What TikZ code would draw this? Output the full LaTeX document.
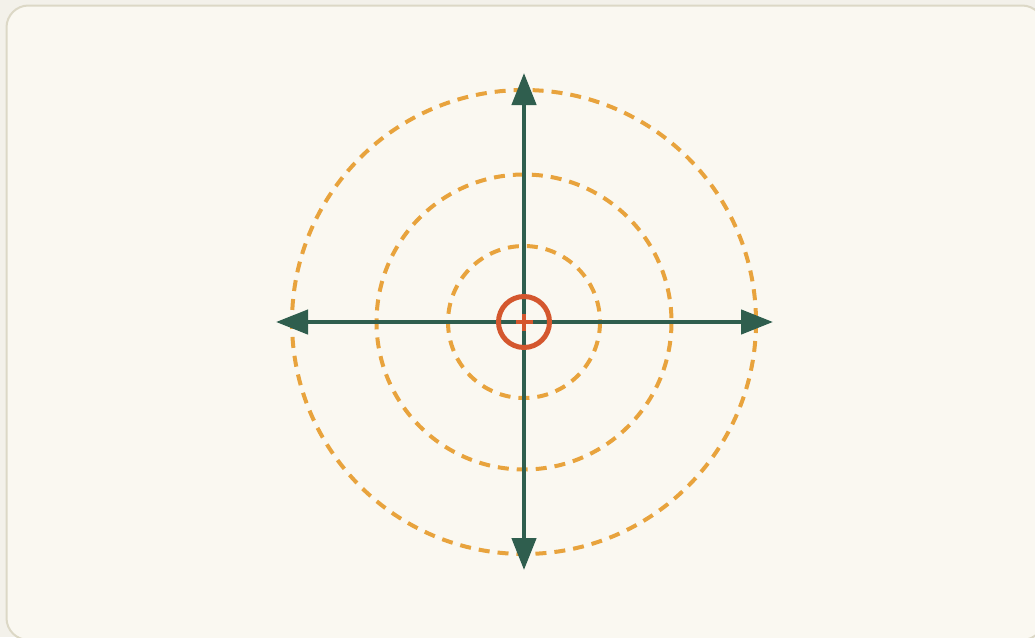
\documentclass[tikz,border=0pt]{standalone}
\usetikzlibrary{arrows.meta}
\definecolor{pagebg}{HTML}{F3F1EA}
\definecolor{cardbg}{HTML}{FAF8F1}
\definecolor{cardline}{HTML}{DCD8C6}
\definecolor{axisgreen}{HTML}{2F5E4E}
\definecolor{ringorange}{HTML}{E8A33D}
\definecolor{targetred}{HTML}{D4572E}
\tikzset{
  ring/.style={draw=ringorange, line width=4pt, dash pattern=on 11pt off 8pt},
  axisline/.style={draw=axisgreen, line width=4.5pt, -{Triangle[length=32pt,width=24pt]}},
  target/.style={draw=targetred, line width=5pt},
}
\begin{document}
\begin{tikzpicture}[x=1pt,y=-1pt]
  \fill[pagebg] (0,0) rectangle (1035,637);
  \useasboundingbox (0,0) rectangle (1035,637);
  \draw[cardline, fill=cardbg, line width=2pt, rounded corners=22pt] (6.5,5.5) rectangle (1044,640);
  \coordinate (c) at (524,322);
  \draw[ring] (c) circle[radius=232];
  \draw[ring] (c) circle[radius=147.5];
  \draw[ring] (c) circle[radius=76];
  \coordinate (n) at (524,73);
  \coordinate (s) at (524,570);
  \coordinate (w) at (276,322);
  \coordinate (e) at (773,322);
  \draw[axisline] (c) -- (n);
  \draw[axisline] (c) -- (s);
  \draw[axisline] (c) -- (w);
  \draw[axisline] (c) -- (e);
  \node[target, circle, minimum size=51pt, inner sep=0pt] (ring0) at (c) {};
  \draw[draw=targetred, line width=4pt] (516,322) -- (533,322);
  \draw[draw=targetred, line width=4pt] (524,314) -- (524,331);
\end{tikzpicture}
\end{document}
